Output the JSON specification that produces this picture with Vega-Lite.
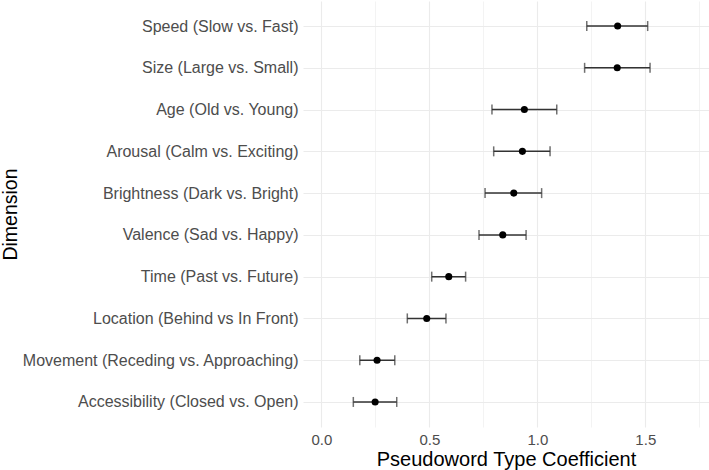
{
  "$schema": "https://vega.github.io/schema/vega-lite/v6.json",
  "autosize": {"type": "none"},
  "width": 406,
  "height": 426,
  "padding": {"left": 303, "top": 1, "right": 0, "bottom": 43},
  "background": "white",
  "config": {
    "view": {"stroke": null},
    "font": "Liberation Sans",
    "axis": {
      "domain": false,
      "ticks": false,
      "gridColor": "#ebebeb",
      "labelFont": "Liberation Sans",
      "titleFont": "Liberation Sans",
      "labelColor": "#4d4d4d",
      "titleColor": "#000000",
      "titleFontWeight": "normal",
      "labelLimit": 0
    }
  },
  "data": {
    "values": [
      {"dimension": "Speed (Slow vs. Fast)", "coef": 1.372, "lower": 1.229, "upper": 1.511},
      {"dimension": "Size (Large vs. Small)", "coef": 1.370, "lower": 1.219, "upper": 1.522},
      {"dimension": "Age (Old vs. Young)", "coef": 0.940, "lower": 0.790, "upper": 1.090},
      {"dimension": "Arousal (Calm vs. Exciting)", "coef": 0.931, "lower": 0.798, "upper": 1.059},
      {"dimension": "Brightness (Dark vs. Bright)", "coef": 0.891, "lower": 0.758, "upper": 1.020},
      {"dimension": "Valence (Sad vs. Happy)", "coef": 0.840, "lower": 0.730, "upper": 0.948},
      {"dimension": "Time (Past vs. Future)", "coef": 0.590, "lower": 0.511, "upper": 0.668},
      {"dimension": "Location (Behind vs In Front)", "coef": 0.488, "lower": 0.398, "upper": 0.577},
      {"dimension": "Movement (Receding vs. Approaching)", "coef": 0.258, "lower": 0.178, "upper": 0.340},
      {"dimension": "Accessibility (Closed vs. Open)", "coef": 0.249, "lower": 0.148, "upper": 0.349}
    ]
  },
  "encoding": {
    "y": {
      "field": "dimension",
      "type": "nominal",
      "sort": null,
      "scale": {"type": "point", "padding": 0.6},
      "axis": {
        "title": "Dimension",
        "titleFontSize": 19.5,
        "titleX": -287,
        "titleY": 213,
        "titleAlign": "center",
        "titleBaseline": "alphabetic",
        "labelFontSize": 16,
        "labelPadding": 5,
        "grid": true,
        "gridWidth": 1.1
      }
    }
  },
  "layer": [
    {
      "mark": {"type": "rule", "color": "#333333", "strokeWidth": 1.5},
      "encoding": {
        "x": {
          "field": "lower",
          "type": "quantitative",
          "scale": {"domain": [-0.085, 1.795], "nice": false, "zero": false},
          "axis": {
            "title": "Pseudoword Type Coefficient",
            "titleFontSize": 20,
            "titlePadding": 2,
            "labelFontSize": 15,
            "labelPadding": 5,
            "values": [0, 0.25, 0.5, 0.75, 1, 1.25, 1.5, 1.75],
            "labelExpr": "(round(datum.value * 4) % 2 == 0) ? format(datum.value, '.1f') : ''",
            "gridWidth": {"condition": {"test": "round(datum.value * 4) % 2 == 0", "value": 1.1}, "value": 0.6}
          }
        },
        "x2": {"field": "upper"}
      }
    },
    {
      "mark": {"type": "tick", "color": "#333333", "thickness": 1.5, "size": 10},
      "encoding": {"x": {"field": "lower", "type": "quantitative"}}
    },
    {
      "mark": {"type": "tick", "color": "#333333", "thickness": 1.5, "size": 10},
      "encoding": {"x": {"field": "upper", "type": "quantitative"}}
    },
    {
      "mark": {"type": "point", "filled": true, "color": "#000000", "opacity": 1, "size": 50},
      "encoding": {"x": {"field": "coef", "type": "quantitative"}}
    }
  ]
}
